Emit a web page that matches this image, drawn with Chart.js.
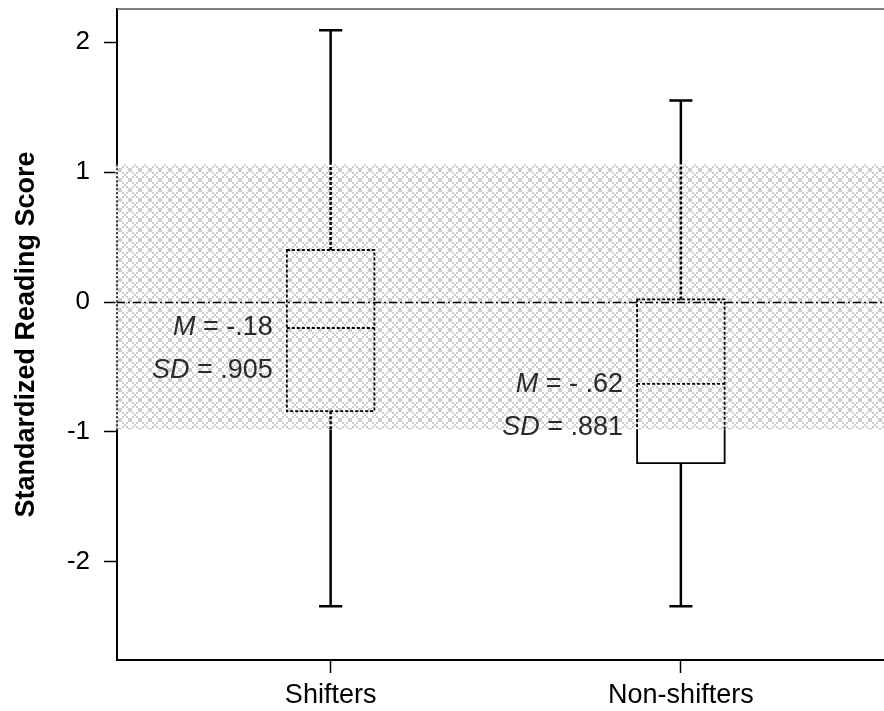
<!DOCTYPE html>
<html>
<head>
<meta charset="utf-8">
<script src="https://cdn.jsdelivr.net/npm/chart.js@4.4.1/dist/chart.umd.min.js"></script>
<style>
  html, body { margin: 0; padding: 0; background: #fff; }
  #wrap { width: 884px; height: 711px; }
</style>
</head>
<body>
<div id="wrap"><canvas id="chart" width="884" height="711"></canvas></div>
<script>
// data
const groups = ['Shifters', 'Non-shifters'];
const groupPos = [1, 2];
const whiskerLow = [-2.34, -2.34];
const boxLow = [-0.84, -1.24];
const medians = [-0.2, -0.63];
const boxHigh = [0.40, 0.02];
const whiskerHigh = [2.09, 1.55];
const means = [-0.18, -0.62];
const meanLabels = ['-.18', '- .62'];
const sdLabels = ['.905', '.881'];
const bandRange = [-0.98, 1.06];
const yTicks = [-2, -1, 0, 1, 2];

const FONT = "'Liberation Sans', Arial, sans-serif";

function makePattern() {
  let p = document.createElement('canvas');
  p.width = 10; p.height = 10;
  let g = p.getContext('2d');
  g.fillStyle = '#fff';
  g.fillRect(0, 0, 10, 10);
  g.fillStyle = '#cdcdcd';
  for (let i = 0; i < 10; i += 2) {
    for (let j = 0; j < 10; j += 2) {
      if (((i + j) / 2) % 2 === 0) g.fillRect(i, j, 2, 2);
    }
  }
  // white dots in a lattice
  g.fillStyle = '#fff';
  g.fillRect(4, 0, 2, 2);
  g.fillRect(4, 8, 2, 2);
  g.fillRect(0, 4, 2, 2);
  g.fillRect(8, 4, 2, 2);
  return p;
}

const boxPlugin = {
  id: 'boxPlugin',

  beforeDatasetsDraw: function (chart) {
    const ctx = chart.ctx, a = chart.chartArea, y = chart.scales.y;
    const yt = y.getPixelForValue(bandRange[1]);
    const yb = y.getPixelForValue(bandRange[0]);
    ctx.save();
    ctx.fillStyle = ctx.createPattern(makePattern(), 'repeat');
    ctx.fillRect(a.left - 1.5, yt, a.right - a.left + 1.5, yb - yt);
    // axis line shows dotted through the band
    ctx.strokeStyle = '#000';
    ctx.lineWidth = 1.5;
    ctx.setLineDash([2, 2]);
    ctx.beginPath();
    ctx.moveTo(a.left, yt);
    ctx.lineTo(a.left, yb);
    ctx.stroke();
    // zero line
    const y0 = Math.round(y.getPixelForValue(0)) + 0.5;
    ctx.lineWidth = 1.5;
    ctx.setLineDash([8, 3, 2, 3]);
    ctx.beginPath();
    ctx.moveTo(a.left, y0);
    ctx.lineTo(a.right, y0);
    ctx.stroke();
    ctx.restore();
  },

  afterDatasetsDraw: function (chart) {
    const ctx = chart.ctx, a = chart.chartArea;
    const x = chart.scales.x, y = chart.scales.y;
    const yt = y.getPixelForValue(bandRange[1]);
    const yb = y.getPixelForValue(bandRange[0]);
    const boxW = x.getPixelForValue(0.125) - x.getPixelForValue(0);
    const capW = x.getPixelForValue(0.033) - x.getPixelForValue(0);

    let whiskers = new Path2D();
    let boxes = new Path2D();
    groupPos.forEach(function (p, i) {
      const cx = x.getPixelForValue(p);
      const pHi = y.getPixelForValue(boxHigh[i]);
      const pLo = y.getPixelForValue(boxLow[i]);
      const wHi = y.getPixelForValue(whiskerHigh[i]);
      const wLo = y.getPixelForValue(whiskerLow[i]);
      const med = y.getPixelForValue(medians[i]);
      whiskers.moveTo(cx, pHi); whiskers.lineTo(cx, wHi);
      whiskers.moveTo(cx - capW, wHi); whiskers.lineTo(cx + capW, wHi);
      whiskers.moveTo(cx, pLo); whiskers.lineTo(cx, wLo);
      whiskers.moveTo(cx - capW, wLo); whiskers.lineTo(cx + capW, wLo);
      boxes.rect(cx - boxW, pHi, boxW * 2, pLo - pHi);
      boxes.moveTo(cx - boxW, med); boxes.lineTo(cx + boxW, med);
    });

    function strokeBoth(path, width, dash) {
      // solid outside the band
      ctx.save();
      ctx.beginPath();
      ctx.rect(0, 0, chart.width, yt);
      ctx.rect(0, yb, chart.width, chart.height - yb);
      ctx.clip();
      ctx.strokeStyle = '#000';
      ctx.lineWidth = width;
      ctx.stroke(path);
      ctx.restore();
      // dotted inside the band
      ctx.save();
      ctx.beginPath();
      ctx.rect(0, yt, chart.width, yb - yt);
      ctx.clip();
      ctx.strokeStyle = '#000';
      ctx.lineWidth = width;
      ctx.setLineDash(dash);
      ctx.stroke(path);
      ctx.restore();
    }
    strokeBoth(whiskers, 2.5, [3, 2]);
    strokeBoth(boxes, 1.8, [3, 2]);

    // M and SD labels next to each box
    ctx.save();
    ctx.fillStyle = '#2a2a2a';
    ctx.textBaseline = 'middle';
    groupPos.forEach(function (p, i) {
      const right = x.getPixelForValue(p) - boxW - 14;
      const ym = y.getPixelForValue(means[i]);
      drawLabel(ctx, 'M', ' = ' + meanLabels[i], right, ym + 2);
      drawLabel(ctx, 'SD', ' = ' + sdLabels[i], right, ym + 45);
    });
    ctx.restore();

    // top frame line
    ctx.save();
    ctx.strokeStyle = '#555';
    ctx.lineWidth = 1.5;
    ctx.beginPath();
    ctx.moveTo(a.left, a.top);
    ctx.lineTo(a.right, a.top);
    ctx.stroke();
    ctx.restore();
  }
};

function drawLabel(ctx, italicPart, rest, right, yPix) {
  ctx.font = '27px ' + FONT;
  const wRest = ctx.measureText(rest).width;
  ctx.textAlign = 'left';
  ctx.fillText(rest, right - wRest, yPix);
  ctx.font = 'italic 27px ' + FONT;
  const wIt = ctx.measureText(italicPart).width;
  ctx.fillText(italicPart, right - wRest - wIt, yPix);
}

const ctx = document.getElementById('chart').getContext('2d');
const chart = new Chart(ctx, {
  type: 'scatter',
  data: {
    datasets: [{
      label: 'median',
      data: groupPos.map((p, i) => ({ x: p, y: medians[i] })),
      pointRadius: 0,
      showLine: false
    }]
  },
  options: {
    responsive: false,
    animation: false,
    devicePixelRatio: 1,
    layout: { padding: { top: 9, right: 0, left: 0, bottom: 0 } },
    plugins: { legend: { display: false }, tooltip: { enabled: false } },
    scales: {
      x: {
        type: 'linear',
        min: 0.39,
        max: 2.58,
        afterBuildTicks: function (s) { s.ticks = groupPos.map(v => ({ value: v })); },
        afterFit: function (s) {
          s.height = 51;
          s.paddingLeft = 0;
          s.paddingRight = 0;
        },
        ticks: {
          callback: function (v) { return groups[groupPos.indexOf(v)]; },
          font: { family: FONT, size: 27 },
          color: '#000',
          padding: 6,
          maxRotation: 0
        },
        grid: { drawOnChartArea: false, tickLength: 13, tickColor: '#000', tickWidth: 1.5 },
        border: { color: '#000', width: 2 }
      },
      y: {
        min: -2.754,
        max: 2.254,
        afterBuildTicks: function (s) { s.ticks = yTicks.map(v => ({ value: v })); },
        afterFit: function (s) {
          s.width = 117;
          s.paddingTop = 0;
          s.paddingBottom = 0;
        },
        ticks: {
          font: { family: FONT, size: 26 },
          color: '#000',
          padding: 14
        },
        grid: { drawOnChartArea: false, tickLength: 13, tickColor: '#000', tickWidth: 1.5 },
        border: { color: '#000', width: 2 },
        title: {
          display: true,
          text: 'Standardized Reading Score',
          font: { family: FONT, size: 27, weight: 'bold' },
          color: '#000',
          padding: { top: 10, bottom: 0 }
        }
      }
    }
  },
  plugins: [boxPlugin]
});
</script>
</body>
</html>
